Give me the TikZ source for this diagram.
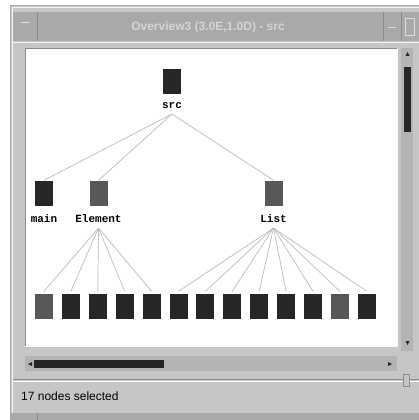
\documentclass[tikz,border=0pt]{standalone}
\usepackage{fontspec}
\setmainfont{Liberation Serif}
\newfontfamily\monofont{Liberation Mono}
\newfontfamily\uifont{Liberation Sans}
\definecolor{winbg}{HTML}{C6C6C6}
\definecolor{titlebg}{HTML}{A9A9A9}
\definecolor{titletext}{HTML}{D4D4D4}
\definecolor{trough}{HTML}{B4B4B4}
\definecolor{boxdark}{HTML}{262626}
\definecolor{boxmid}{HTML}{585858}
\definecolor{edgegray}{HTML}{BDBDBD}
\definecolor{darkline}{HTML}{8C8C8C}
\begin{document}
\begin{tikzpicture}[x=1pt,y=-1pt,
  box/.style={rectangle, minimum width=18pt, minimum height=25pt, inner sep=0pt, fill=boxdark},
  midbox/.style={box, fill=boxmid},
  lbl/.style={font=\monofont\bfseries\fontsize{11}{12}\selectfont, inner sep=1pt, outer sep=4pt},
  tedge/.style={draw=edgegray, line width=0.7pt},
  bevel/.style={draw=darkline, line width=0.8pt}]
\useasboundingbox (0,0) rectangle (419,420);
\fill[white] (0,0) rectangle (419,420);
% window
\fill[winbg] (10,5) rectangle (419,420);
\draw[darkline!70, line width=0.8pt] (10.5,420) -- (10.5,5.5) -- (419,5.5);
\draw[white!80!winbg, line width=0.8pt] (12.5,420) -- (12.5,7.5) -- (419,7.5);
% title bar
\fill[titlebg] (13,12) rectangle (419,41);
\draw[darkline, line width=0.6pt] (37,12) -- (37,41);
\draw[darkline, line width=0.6pt] (383,12) -- (383,41);
\draw[darkline, line width=0.6pt] (401,12) -- (401,41);
\draw[white!60!titlebg, line width=0.8pt] (21,22) -- (30,22);
\draw[white!60!titlebg, line width=0.8pt] (388,27) -- (396,27);
\draw[white!60!titlebg, line width=0.8pt] (405,18) rectangle (414,35);
\draw[white!80!winbg, line width=0.8pt] (13,42.5) -- (419,42.5);
\node[font=\uifont\bfseries\fontsize{12}{13}\selectfont, text=titletext, inner sep=0pt] (title) at (208,27) {Overview3 (3.0E,1.0D) - src};
% canvas
\fill[white] (25,48) rectangle (397,346);
\draw[bevel] (25,346) -- (25,48) -- (397,48);
\draw[white, line width=0.8pt] (397,48) -- (397,346) -- (25,346);
% vertical scrollbar
\fill[trough] (401,48) rectangle (413,351);
\fill[boxdark] (404,67) rectangle (411,132);
\fill[boxdark] (405.5,56) -- (409.5,56) -- (407.5,52) -- cycle;
\fill[boxdark] (405.5,341) -- (409.5,341) -- (407.5,345) -- cycle;
% horizontal scrollbar
\fill[trough] (25,356) rectangle (397,371);
\fill[boxdark] (34,360) rectangle (164,368);
\fill[boxdark] (32,362) -- (32,366) -- (28,364) -- cycle;
\fill[boxdark] (388,362) -- (388,366) -- (392,364) -- cycle;
% separator and status
\draw[darkline, line width=0.7pt] (13,379.5) -- (419,379.5);
\draw[white, line width=0.7pt] (13,381) -- (419,381);
\draw[darkline, line width=0.6pt, fill=winbg] (403,374) rectangle (409,386);
\node[font=\uifont\fontsize{12}{13}\selectfont, anchor=west, inner sep=0pt, xscale=1.0] (status) at (21,396) {17 nodes selected};
\fill[titlebg] (10,413) rectangle (419,420);
\draw[darkline, line width=0.5pt] (37,413) -- (37,420);
% tree nodes
\node[box] (src) at (172,81) {};
\node[lbl] (srcl) at (172,106) {src};
\node[box] (main) at (44,193) {};
\node[lbl] (mainl) at (44,219) {main};
\node[midbox] (elem) at (98.5,193) {};
\node[lbl] (eleml) at (98.5,219) {Element};
\node[midbox] (list) at (273.5,193) {};
\node[lbl] (listl) at (273.5,219) {List};
\foreach \i in {0,...,12} {
  \pgfmathsetmacro{\cx}{44+26.9*\i}
  \ifnum\i=0 \node[midbox] (c\i) at (\cx,306) {};
  \else\ifnum\i=11 \node[midbox] (c\i) at (\cx,306) {};
  \else \node[box] (c\i) at (\cx,306) {};
  \fi\fi
}
% edges
\draw[tedge] (srcl.south) -- (main.north);
\draw[tedge] (srcl.south) -- (elem.north);
\draw[tedge] (srcl.south) -- (list.north);
\foreach \i in {0,...,4} { \draw[tedge] (eleml.south) -- ([yshift=2pt]c\i.north); }
\foreach \i in {5,...,12} { \draw[tedge] (listl.south) -- ([yshift=2pt]c\i.north); }
\end{tikzpicture}
\end{document}
